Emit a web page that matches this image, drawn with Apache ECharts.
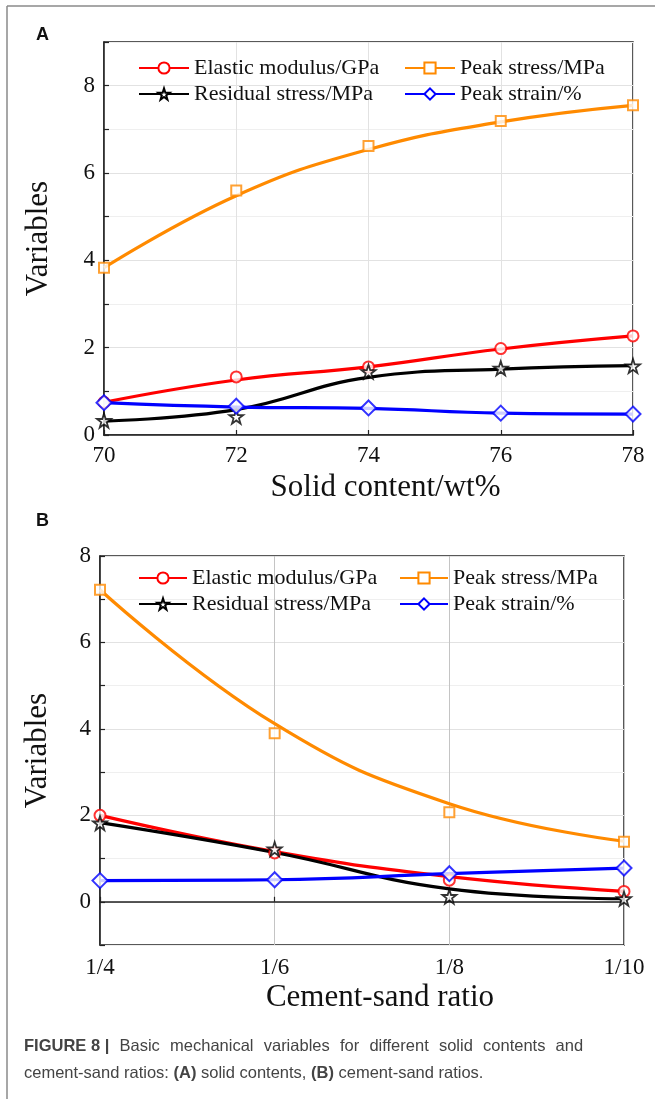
<!DOCTYPE html>
<html>
<head>
<meta charset="utf-8">
<script src="https://cdn.jsdelivr.net/npm/echarts@6/dist/echarts.min.js"></script>
<style>
html,body{margin:0;padding:0;background:#fff;}
#main{width:655px;height:1099px;}
</style>
</head>
<body>
<div id="main"></div>
<script>
// ---------- DATA ----------
const solidContent = [70, 72, 74, 76, 78];
const ratioLabels = ['1/4', '1/6', '1/8', '1/10'];
const seriesNames = ['Elastic modulus/GPa', 'Peak stress/MPa', 'Residual stress/MPa', 'Peak strain/%'];

// Panel A measured points
const elasticA  = [0.75, 1.33, 1.56, 1.98, 2.27];
const peakA     = [3.83, 5.60, 6.62, 7.19, 7.55];
const residualA = [0.33, 0.42, 1.45, 1.53, 1.58];
const strainA   = [0.74, 0.66, 0.62, 0.50, 0.48];
// Panel A fitted curves (read at the same x positions)
const elasticFitA  = [0.75, 1.26, 1.56, 1.97, 2.27];
const peakFitA     = [3.83, 5.48, 6.54, 7.17, 7.55];
const residualFitA = [0.32, 0.58, 1.32, 1.51, 1.59];
const strainFitA   = [0.74, 0.64, 0.61, 0.50, 0.48];

// Panel B measured points
const elasticB  = [2.00, 1.13, 0.50, 0.24];
const peakB     = [7.22, 3.90, 2.07, 1.39];
const residualB = [1.82, 1.22, 0.12, 0.07];
const strainB   = [0.49, 0.51, 0.65, 0.78];
// Panel B fitted curves
const elasticFitB  = [2.00, 1.16, 0.58, 0.24];
const peakFitB     = [7.22, 4.12, 2.27, 1.40];
const residualFitB = [1.83, 1.14, 0.30, 0.07];
const strainFitB   = [0.49, 0.51, 0.65, 0.78];

const yTicksA = [0, 2, 4, 6, 8];
const yTicksB = [0, 2, 4, 6, 8];

const captionLine1 = ['FIGURE 8 |', 'Basic', 'mechanical', 'variables', 'for', 'different', 'solid', 'contents', 'and'];
const captionLine2 = 'cement-sand ratios: {b|(A)} solid contents, {b|(B)} cement-sand ratios.';

// ---------- STYLE ----------
const colors = ['#ff0000', '#ff8a00', '#000000', '#0000ff'];
const starPath = 'path://M50,0 L61.8,35.1 L98.1,35.1 L68.8,56.8 L79.4,91.0 L50,70.0 L20.6,91.0 L31.2,56.8 L1.9,35.1 L38.2,35.1 Z';
const symbols = ['emptyCircle', 'emptyRect', starPath, 'emptyDiamond'];
const symSizes = [11, 10, 14, [15, 15]];
const serif = '"Liberation Serif", "Times New Roman", serif';
const sans = '"Liberation Sans", Arial, sans-serif';

const chart = echarts.init(document.getElementById('main'), null, {renderer: 'canvas'});

const tickFont = 23;
const nameFont = 31;

function axisCommon() {
  return {
    axisLine: {show: true, lineStyle: {color: '#222', width: 1.5}},
    axisTick: {show: true, inside: true, length: 5, lineStyle: {color: '#222', width: 1.2}},
    nameTextStyle: {color: '#111', fontFamily: serif, fontSize: nameFont}
  };
}

const fitsA = [elasticFitA, peakFitA, residualFitA, strainFitA];
const ptsA = [elasticA, peakA, residualA, strainA];
const fitsB = [elasticFitB, peakFitB, residualFitB, strainFitB];
const ptsB = [elasticB, peakB, residualB, strainB];

const series = [];
function addPanel(idx, fits, pts, xs) {
  for (let i = 0; i < 4; i++) {
    const fitData = xs ? xs.map((x, k) => [x, fits[i][k]]) : fits[i];
    const ptData = xs ? xs.map((x, k) => [x, pts[i][k]]) : pts[i];
    series.push({
      type: 'line', name: seriesNames[i] + (idx ? ' ' : ''),
      xAxisIndex: idx, yAxisIndex: idx,
      data: fitData, smooth: 0.45,
      showSymbol: false, symbol: symbols[i], symbolSize: symSizes[i],
      lineStyle: {color: colors[i], width: 3.2},
      itemStyle: {color: i === 2 ? '#fff' : colors[i], borderColor: colors[i], borderWidth: 1.8},
      emphasis: {disabled: true}, silent: true, z: 3
    });
    series.push({
      type: 'scatter', name: 'pts' + idx + '_' + i,
      xAxisIndex: idx, yAxisIndex: idx,
      data: ptData, symbol: symbols[i], symbolSize: symSizes[i],
      itemStyle: {color: i === 2 ? '#fff' : colors[i], borderColor: colors[i], borderWidth: 1.8},
      emphasis: {disabled: true}, silent: true, z: 5
    });
  }
}
addPanel(0, fitsA, ptsA, solidContent);
addPanel(1, fitsB, ptsB, null);

function legend(left, top, names, w) {
  return {
    orient: 'vertical', left: left, top: top, padding: 0,
    itemWidth: w, itemHeight: 14, itemGap: 4,
    selectedMode: false,
    textStyle: {fontFamily: serif, fontSize: 22, color: '#111', lineHeight: 22, padding: 0},
    data: names
  };
}

// justified first caption line: words joined by fixed-width spacer fragments
const capFont = 16.5;
const line1Text = '{b|' + captionLine1[0] + '}' + captionLine1.slice(1).map(w => '{s| }' + w).join('');
const capRich = {
  b: {fontFamily: sans, fontSize: capFont, fontWeight: 'bold', color: '#222'},
  s: {fontFamily: sans, fontSize: capFont, width: 10.2}
};

const option = {
  backgroundColor: '#fff',
  animation: false,
  grid: [
    {left: 104, top: 42, width: 529, height: 393, show: true, borderColor: '#222', borderWidth: 1.5, backgroundColor: 'transparent'},
    {left: 100, top: 556, width: 524, height: 389, show: true, borderColor: '#222', borderWidth: 1.5, backgroundColor: 'transparent'}
  ],
  xAxis: [
    Object.assign(axisCommon(), {
      type: 'value', gridIndex: 0, min: 70, max: 78, interval: 2,
      name: 'Solid content/wt%', nameLocation: 'middle', nameGap: 37,
      nameTextStyle: {color: '#111', fontFamily: serif, fontSize: nameFont, padding: [0, 0, 0, 34]},
      splitLine: {show: true, lineStyle: {color: '#e2e2e2', width: 1}},
      axisLabel: {color: '#111', fontFamily: serif, fontSize: tickFont, margin: 9}
    }),
    Object.assign(axisCommon(), {
      type: 'category', gridIndex: 1, data: ratioLabels, boundaryGap: false,
      name: 'Cement-sand ratio', nameLocation: 'middle', nameGap: 37,
      nameTextStyle: {color: '#111', fontFamily: serif, fontSize: nameFont, padding: [0, 0, 0, 36]},
      splitLine: {show: true, lineStyle: {color: '#c4c4c4', width: 1}},
      axisLabel: {color: '#111', fontFamily: serif, fontSize: tickFont, margin: 11}
    })
  ],
  yAxis: [
    Object.assign(axisCommon(), {
      type: 'value', gridIndex: 0, min: 0, max: 9, interval: 1,
      name: 'Variables', nameLocation: 'middle', nameGap: 50,
      axisLabel: {color: '#111', fontFamily: serif, fontSize: tickFont, margin: 9,
        formatter: v => (yTicksA.indexOf(v) >= 0 ? String(v) : '')},
      splitLine: {show: true, lineStyle: {color: ['#e2e2e2', '#efefef'], width: 1}}
    }),
    Object.assign(axisCommon(), {
      type: 'value', gridIndex: 1, min: -1, max: 8, interval: 1,
      name: 'Variables', nameLocation: 'middle', nameGap: 47,
      axisLabel: {color: '#111', fontFamily: serif, fontSize: tickFont, margin: 9,
        formatter: v => (yTicksB.indexOf(v) >= 0 ? String(v) : '')},
      splitLine: {show: true, lineStyle: {color: ['#efefef', '#e2e2e2'], width: 1}}
    })
  ],
  legend: [
    legend(138, 57, [seriesNames[0], seriesNames[2]], 50),
    legend(404, 57, [seriesNames[1], seriesNames[3]], 50),
    legend(138, 567, [seriesNames[0] + ' ', seriesNames[2] + ' '], 48),
    legend(399, 567, [seriesNames[1] + ' ', seriesNames[3] + ' '], 48)
  ],
  graphic: [
    {type: 'line', shape: {x1: 7, y1: 6, x2: 7, y2: 1099}, style: {stroke: '#8a8a8a', lineWidth: 1.5}, silent: true},
    {type: 'line', shape: {x1: 7, y1: 6, x2: 655, y2: 6}, style: {stroke: '#8a8a8a', lineWidth: 1.5}, silent: true},
    {type: 'text', left: 36, top: 26, style: {text: 'A', font: 'bold 18px ' + sans, fill: '#111'}},
    {type: 'text', left: 36, top: 512, style: {text: 'B', font: 'bold 18px ' + sans, fill: '#111'}},
    {type: 'text', left: 24, top: 1038, style: {
      text: line1Text, rich: capRich, fontFamily: sans, fontSize: capFont, fill: '#444'}},
    {type: 'text', left: 24, top: 1065, style: {
      text: captionLine2, rich: capRich, fontFamily: sans, fontSize: capFont, fill: '#444'}}
  ],
  series: series
};
chart.setOption(option);
</script>
</body>
</html>
